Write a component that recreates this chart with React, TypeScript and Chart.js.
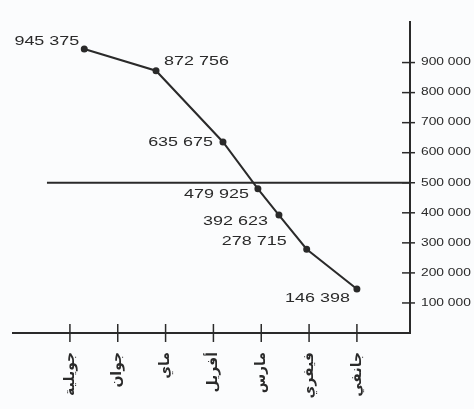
import React, { useEffect, useRef } from "react";
import { Chart, registerables } from "chart.js";

Chart.register(...registerables);

// ---- data ----
const months = ["جانفي", "فيفري", "مارس", "أفريل", "ماي", "جوان", "جويلية"]; // index 1..7, right to left
const monthIndex = [1, 2, 3, 4, 5, 6, 7];
const pointMonthPos = [6.7, 5.2, 3.8, 3.07, 2.63, 2.05, 1];
const pointValues = [945375, 872756, 635675, 479925, 392623, 278715, 146398];
const yTickValues = [100000, 200000, 300000, 400000, 500000, 600000, 700000, 800000, 900000];
const referenceValue = 500000;
const referenceFrom = 7.48;

// ---- style ----
const INK = "#2a2a2a";
const BG = "#fbfcfd";
const STRETCH = 1.38;
const labelPlacement = [
  { dx: -5, dy: -8, align: "right" },
  { dx: 8, dy: -9, align: "left" },
  { dx: -10, dy: 0, align: "right" },
  { dx: -9, dy: 6, align: "right" },
  { dx: -11, dy: 6, align: "right" },
  { dx: -20, dy: -8, align: "right" },
  { dx: -7, dy: 9, align: "right" },
];

const fmt = (v: number) => String(v).replace(/\B(?=(\d{3})+(?!\d))/g, " ");

function stretchedText(ctx: CanvasRenderingContext2D, text: string, x: number, y: number, align: CanvasTextAlign) {
  ctx.save();
  ctx.translate(x, y);
  ctx.scale(STRETCH, 1);
  ctx.textAlign = align;
  ctx.textBaseline = "middle";
  ctx.fillText(text, 0, 0);
  ctx.restore();
}

const bgPlugin = {
  id: "bg",
  beforeDraw(chart: any) {
    const ctx = chart.ctx;
    ctx.save();
    ctx.fillStyle = BG;
    ctx.fillRect(0, 0, chart.width, chart.height);
    ctx.restore();
  },
};

const overlayPlugin = {
  id: "overlay",
  afterDraw(chart: any) {
    const ctx: CanvasRenderingContext2D = chart.ctx;
    const xs = chart.scales.x;
    const ys = chart.scales.y;
    ctx.save();
    ctx.strokeStyle = INK;
    ctx.fillStyle = INK;
    ctx.lineWidth = 1.5;
    // y tick marks + labels
    ctx.font = '10px "Liberation Sans"';
    yTickValues.forEach((v) => {
      const py = ys.getPixelForValue(v);
      ctx.beginPath();
      ctx.moveTo(ys.left - 8, py);
      ctx.lineTo(ys.left + 5, py);
      ctx.stroke();
      stretchedText(ctx, fmt(v), ys.left + 11, py, "left");
    });
    // x tick marks
    monthIndex.forEach((m) => {
      const px = xs.getPixelForValue(m);
      ctx.beginPath();
      ctx.moveTo(px, xs.top - 9);
      ctx.lineTo(px, xs.top + 9);
      ctx.stroke();
    });
    // data labels
    ctx.font = '13px "Liberation Sans"';
    pointValues.forEach((v, i) => {
      const px = xs.getPixelForValue(pointMonthPos[i]);
      const py = ys.getPixelForValue(v);
      const p = labelPlacement[i];
      stretchedText(ctx, fmt(v), px + p.dx, py + p.dy, p.align as CanvasTextAlign);
    });
    ctx.restore();
  },
};

export default function App() {
  const ref = useRef<HTMLCanvasElement>(null);
  useEffect(() => {
    if (!ref.current) return;
    const chart = new Chart(ref.current, {
      type: "line",
      data: {
        datasets: [
          {
            data: pointValues.map((v, i) => ({ x: pointMonthPos[i], y: v })),
            borderColor: INK,
            backgroundColor: INK,
            borderWidth: 2,
            pointRadius: 2.5,
            pointBackgroundColor: INK,
            pointBorderColor: INK,
            tension: 0,
          },
          {
            data: [
              { x: referenceFrom, y: referenceValue },
              { x: -0.2, y: referenceValue },
            ],
            borderColor: INK,
            borderWidth: 2,
            pointRadius: 0,
          },
        ],
      },
      options: {
        animation: false,
        responsive: true,
        maintainAspectRatio: false,
        layout: { padding: { left: 13, top: 22, right: 0, bottom: 0 } },
        plugins: { legend: { display: false }, tooltip: { enabled: false } },
        scales: {
          x: {
            type: "linear",
            reverse: true,
            min: -0.11,
            max: 8.19,
            afterBuildTicks: (s: any) => {
              s.ticks = monthIndex.map((v) => ({ value: v }));
            },
            afterFit: (s: any) => {
              s.height = 76;
            },
            grid: { display: false, drawTicks: false },
            border: { display: true, color: INK, width: 2 },
            ticks: {
              autoSkip: false,
              maxRotation: 90,
              minRotation: 90,
              padding: 19,
              color: INK,
              font: { family: '"DejaVu Sans"', size: 14, weight: "bold" },
              callback: (v: any) => months[Number(v) - 1] ?? "",
            },
          },
          y: {
            type: "linear",
            position: "right",
            min: 0,
            max: 1035000,
            afterFit: (s: any) => {
              s.width = 64;
            },
            grid: { display: false, drawTicks: false },
            border: { display: true, color: INK, width: 2 },
            ticks: { display: false },
          },
        },
      },
      plugins: [bgPlugin, overlayPlugin],
    });
    return () => chart.destroy();
  }, []);
  return (
    <div style={{ position: "fixed", left: 0, top: 0, width: 474, height: 409, background: BG }}>
      <canvas ref={ref} />
    </div>
  );
}
